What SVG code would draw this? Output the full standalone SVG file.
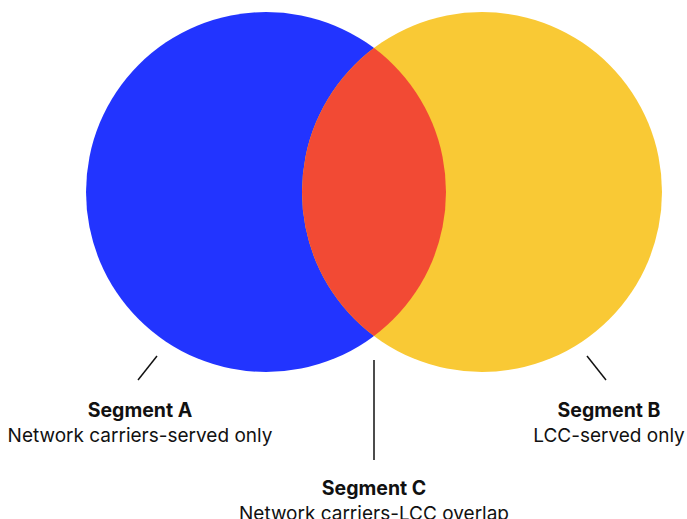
<svg xmlns="http://www.w3.org/2000/svg" width="687" height="519" viewBox="0 0 687 519">
<style>
.t{font-family:Inter,"Liberation Sans",sans-serif;font-size:19px;fill:#111;text-anchor:middle}
.b{font-weight:700;font-size:19.5px}
.ln{stroke:#111;stroke-width:1.5;fill:none}
</style>
<defs>
<clipPath id="clipA"><circle cx="266" cy="192" r="180"/></clipPath>
</defs>
<g id="setA"><circle cx="266" cy="192" r="180" fill="#2234FF"/></g>
<g id="setB"><circle cx="482" cy="192" r="180" fill="#F9C935"/></g>
<g id="overlap"><circle cx="482" cy="192" r="180" fill="#F24A34" clip-path="url(#clipA)"/></g>
<g id="connectors">
<line class="ln" x1="138" y1="380" x2="157" y2="356"/>
<line class="ln" x1="374" y1="360" x2="374" y2="460"/>
<line class="ln" x1="587" y1="356" x2="606" y2="380"/>
</g>
<g id="labelA">
<text class="t b" x="140" y="417">Segment A</text>
<text class="t" x="140" y="442">Network carriers-served only</text>
</g>
<g id="labelB">
<text class="t b" x="609" y="417">Segment B</text>
<text class="t" x="609" y="442">LCC-served only</text>
</g>
<g id="labelC">
<text class="t b" x="374" y="495">Segment C</text>
<text class="t" x="374" y="520">Network carriers-LCC overlap</text>
</g>
</svg>
